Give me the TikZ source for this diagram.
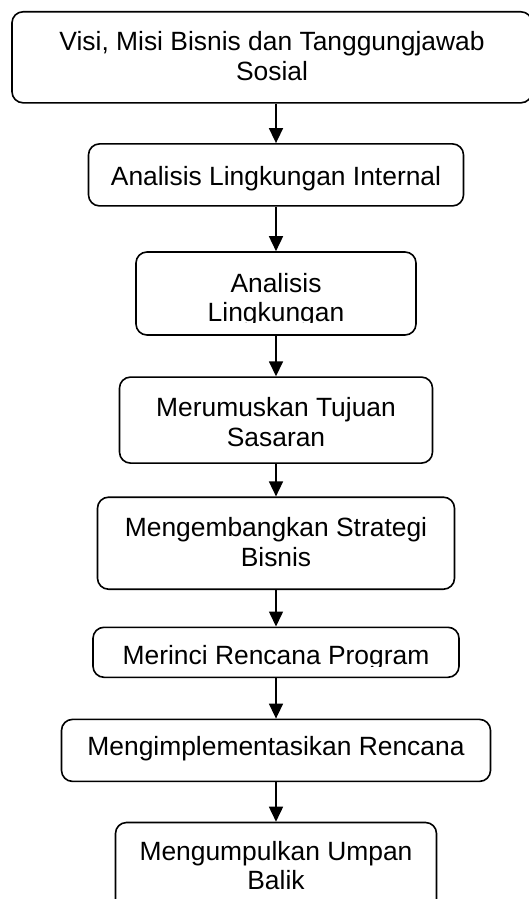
\documentclass[tikz,border=0pt]{standalone}
\usepackage{fontspec}
\setmainfont{Liberation Sans}
\usetikzlibrary{arrows.meta, positioning}

\begin{document}
\begin{tikzpicture}[
  node distance=40pt,
  stepbox/.style={rectangle, draw, line width=1.6pt, rounded corners=11pt, inner sep=0pt, align=center, font=\fontsize{26.4pt}{29.5pt}\selectfont},
  boxtext/.style={stepbox, draw=none},
  arrow/.style={-{Triangle[width=14pt,length=15pt]}, line width=1.6pt}
]
\useasboundingbox (0,0) rectangle (529pt,-899pt);

\node[stepbox, minimum width=520pt, text height=68.5pt, text depth=22.5pt, anchor=north] (visi) at (272pt,-11pt) {Visi, Misi Bisnis dan Tanggungjawab\\Sosial};
\node[stepbox, minimum width=375pt, text height=42pt, text depth=20pt, below=39.5pt of visi, xshift=4pt] (intern) {Analisis Lingkungan Internal};
\node[stepbox, minimum width=280pt, text height=69.5pt, text depth=13.5pt, below=44.5pt of intern] (lingk) {};
\begin{scope}
  \clip ([yshift=13pt]lingk.south west) rectangle (lingk.north east);
  \node[boxtext, text height=69.5pt, text depth=13.5pt] (lingk text) at (lingk) {Analisis\\Lingkungan};
\end{scope}
\node[stepbox, minimum width=313pt, text height=69pt, text depth=17pt, below=40.5pt of lingk] (tujuan) {Merumuskan Tujuan\\Sasaran};
\node[stepbox, minimum width=357pt, text height=69pt, text depth=23pt, below=32.5pt of tujuan] (strategi) {Mengembangkan Strategi\\Bisnis};
\node[stepbox, minimum width=366pt, text height=37pt, text depth=13pt, below=36.5pt of strategi] (program) {};
\begin{scope}
  \clip ([yshift=12pt]program.south west) rectangle (program.north east);
  \node[boxtext, text height=37pt, text depth=13pt] (program text) at (program) {Merinci Rencana Program};
\end{scope}
\node[stepbox, minimum width=429pt, text height=36.5pt, text depth=25.5pt, below=40.5pt of program] (implement) {Mengimplementasikan Rencana};
\node[stepbox, minimum width=321pt, text height=67pt, text depth=21pt, below=39.5pt of implement] (umpan) {Mengumpulkan Umpan\\Balik};

\draw[arrow] (visi.south -| intern) -- (intern);
\draw[arrow] (intern) -- (lingk);
\draw[arrow] (lingk) -- (tujuan);
\draw[arrow] (tujuan) -- (strategi);
\draw[arrow] (strategi) -- (program);
\draw[arrow] (program) -- (implement);
\draw[arrow] (implement) -- (umpan);
\end{tikzpicture}
\end{document}
